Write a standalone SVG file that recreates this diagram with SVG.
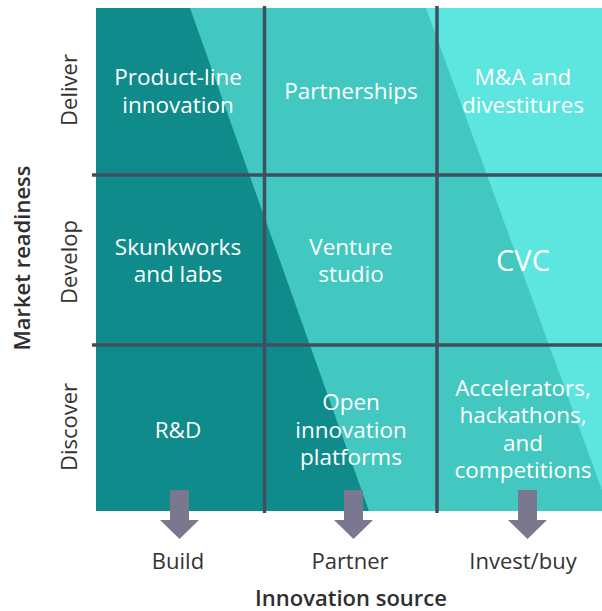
<svg xmlns="http://www.w3.org/2000/svg" width="602" height="611" viewBox="0 0 602 611">
<style>
.cell{font-family:"Open Sans","Liberation Sans",sans-serif;font-size:22.5px;fill:#ffffff;text-anchor:middle}
.lab{font-family:"Open Sans","Liberation Sans",sans-serif;font-size:22px;fill:#333333;text-anchor:middle}
.axis{font-family:"Open Sans","Liberation Sans",sans-serif;font-size:22px;font-weight:600;fill:#2e2e2e;text-anchor:middle}
.grid{stroke:#3f4f60;stroke-width:3.5;fill:none}
.arrow{fill:#7a788f}
</style>
<defs>
<polygon id="arr" points="-9.5,0 9.5,0 9.5,30 19.5,30 0,49 -19.5,30 -9.5,30"/>
</defs>
<g id="background">
<rect x="96" y="8" width="506" height="503" fill="#42c8c1"/>
<polygon points="426,8 602,8 602,490" fill="#5de5df"/>
<polygon points="96,8 190,8 369,511 96,511" fill="#108b8b"/>
</g>
<g id="connectors">
<line class="grid" x1="264.5" y1="6" x2="264.5" y2="513"/>
<line class="grid" x1="437" y1="6" x2="437" y2="513"/>
<line class="grid" x1="92" y1="175" x2="602" y2="175"/>
<line class="grid" x1="92" y1="345" x2="602" y2="345"/>
<use href="#arr" class="arrow" x="179.5" y="490"/>
<use href="#arr" class="arrow" x="353.5" y="490"/>
<use href="#arr" class="arrow" x="527.5" y="490"/>
</g>
<g id="cell-product-line"><text class="cell" x="178" y="85">Product-line</text><text class="cell" x="178" y="113">innovation</text></g>
<g id="cell-partnerships"><text class="cell" x="351" y="99">Partnerships</text></g>
<g id="cell-ma"><text class="cell" x="523" y="85">M&amp;A and</text><text class="cell" x="523" y="113">divestitures</text></g>
<g id="cell-skunkworks"><text class="cell" x="178" y="255">Skunkworks</text><text class="cell" x="178" y="282">and labs</text></g>
<g id="cell-venture"><text class="cell" x="351" y="255">Venture</text><text class="cell" x="351" y="282">studio</text></g>
<g id="cell-cvc"><text class="cell" x="523" y="271" style="font-size:29px">CVC</text></g>
<g id="cell-rd"><text class="cell" x="178" y="438">R&amp;D</text></g>
<g id="cell-open"><text class="cell" x="351" y="410">Open</text><text class="cell" x="351" y="438">innovation</text><text class="cell" x="351" y="465">platforms</text></g>
<g id="cell-accelerators"><text class="cell" x="523" y="396">Accelerators,</text><text class="cell" x="523" y="423">hackathons,</text><text class="cell" x="523" y="451">and</text><text class="cell" x="523" y="478">competitions</text></g>
<g id="row-labels">
<text class="lab" transform="translate(77,90) rotate(-90)">Deliver</text>
<text class="lab" transform="translate(77,262) rotate(-90)">Develop</text>
<text class="lab" transform="translate(77,427) rotate(-90)">Discover</text>
<text class="axis" transform="translate(30,258) rotate(-90)">Market readiness</text>
</g>
<g id="col-labels">
<text class="lab" x="178" y="569">Build</text>
<text class="lab" x="350" y="569">Partner</text>
<text class="lab" x="523" y="569">Invest/buy</text>
<text class="axis" x="351" y="606">Innovation source</text>
</g>
</svg>
